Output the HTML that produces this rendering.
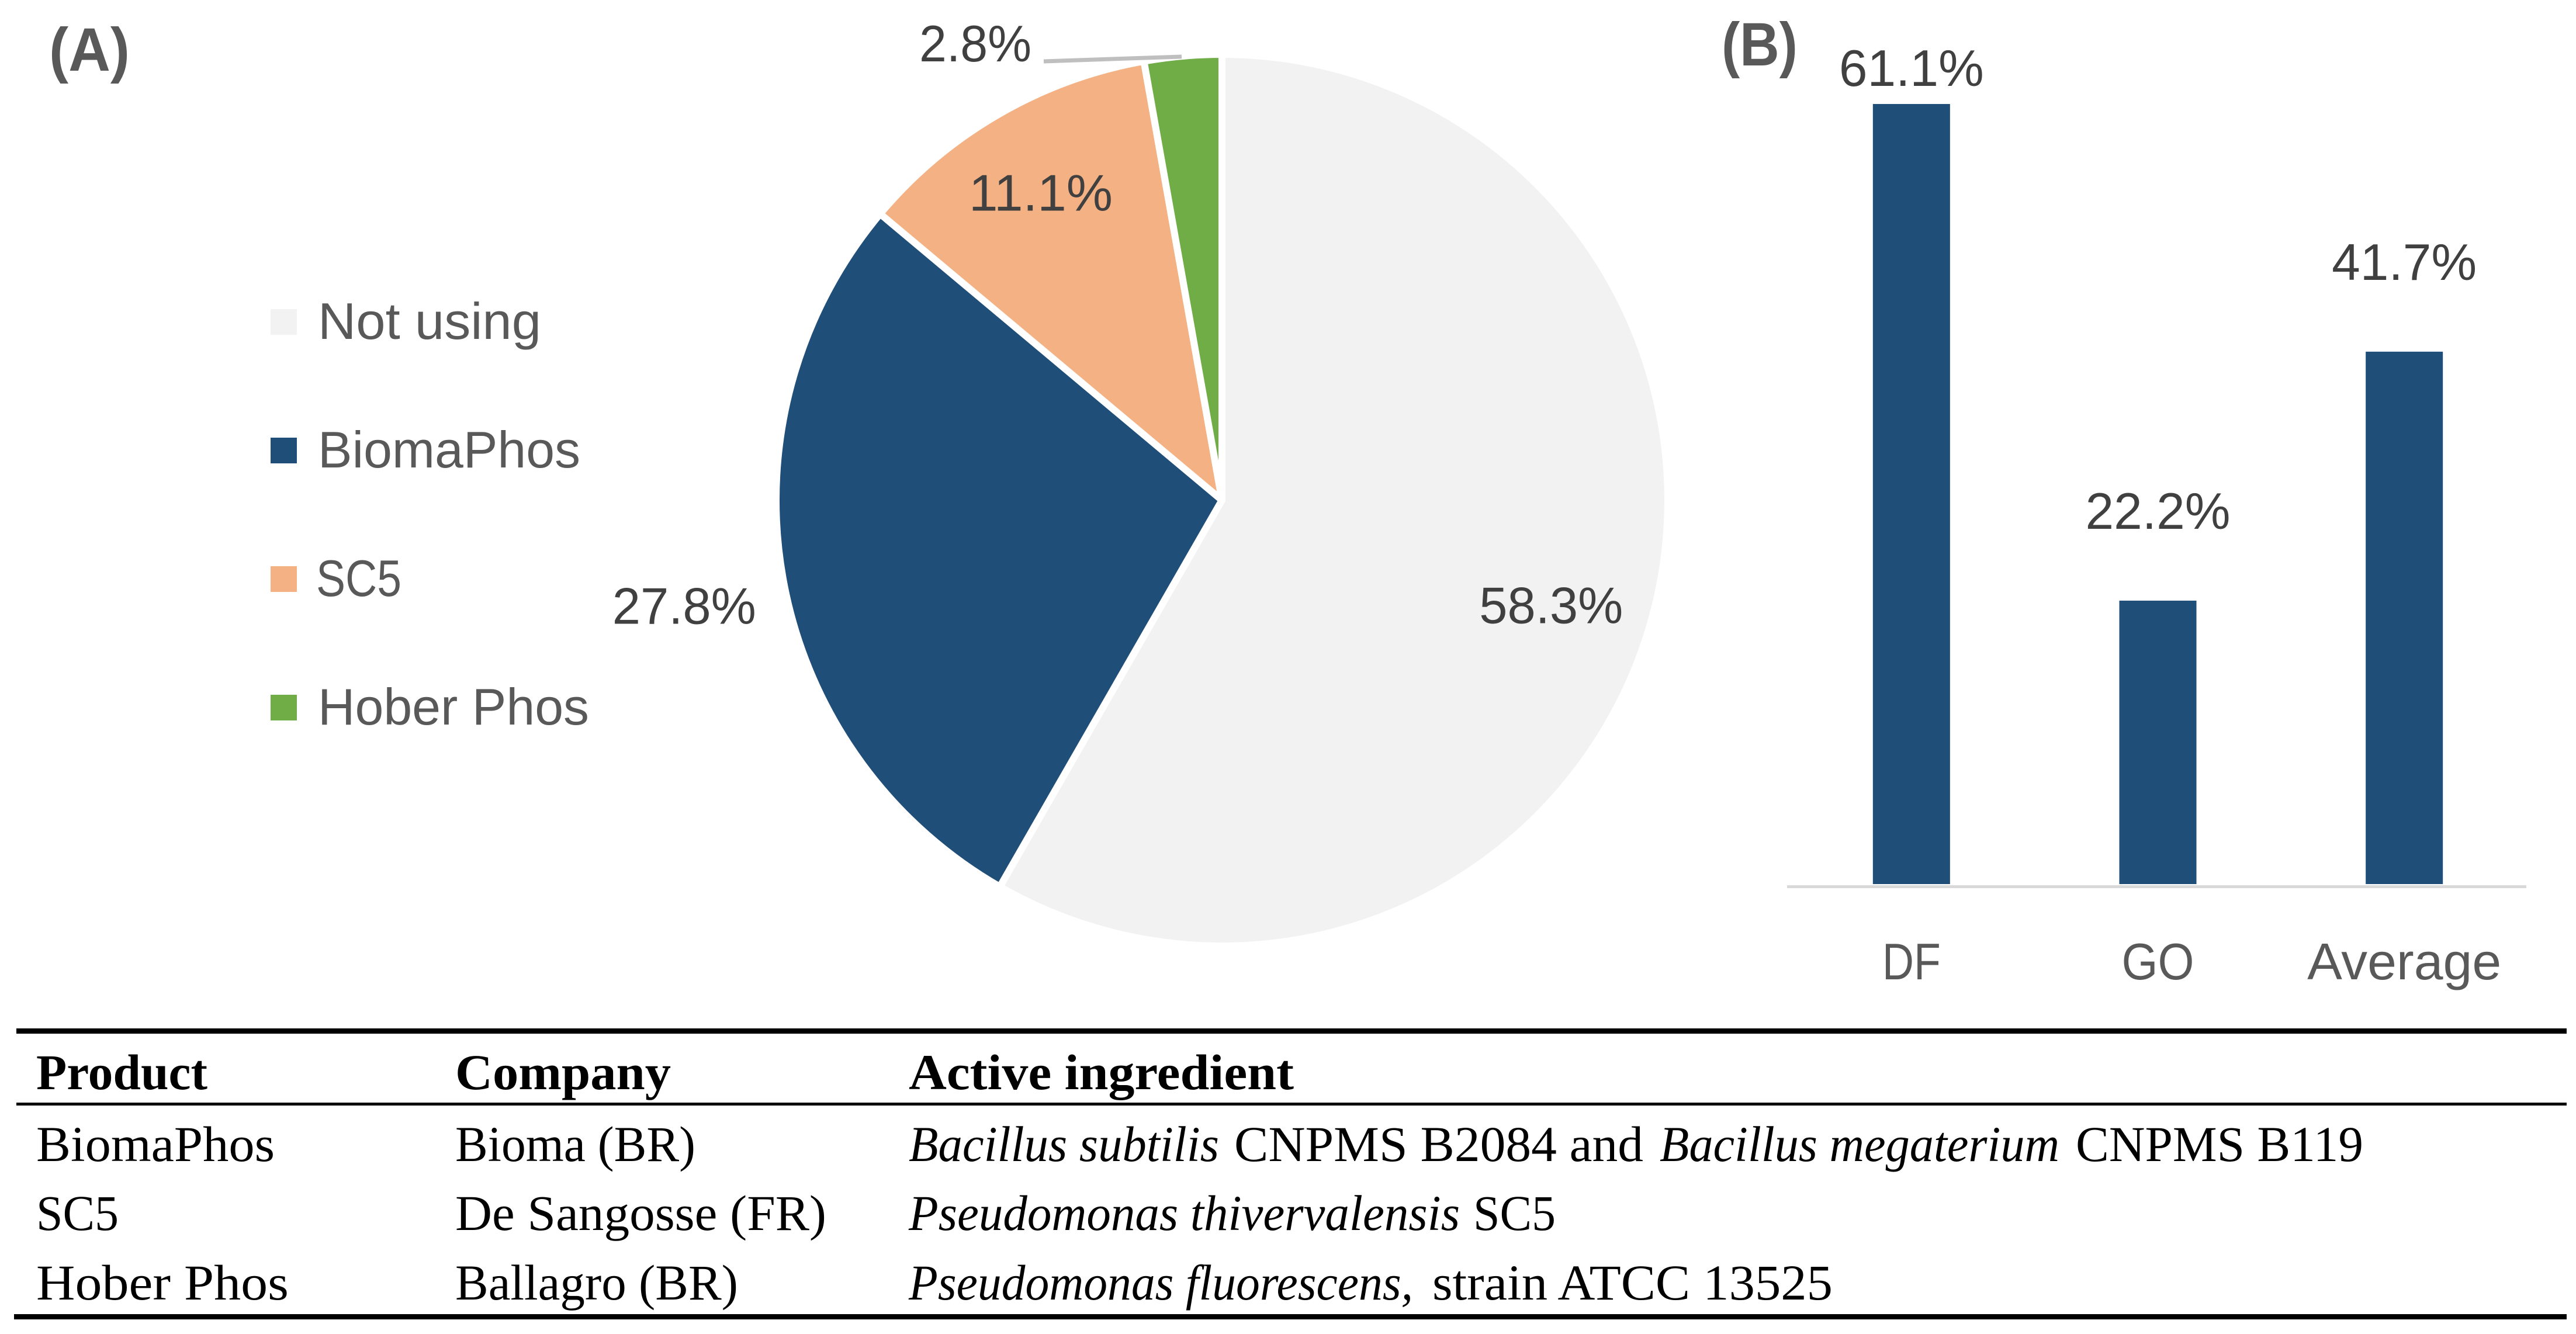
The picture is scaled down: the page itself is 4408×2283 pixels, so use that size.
<!DOCTYPE html>
<html lang="en">
<head>
<meta charset="utf-8">
<title>Phosphate solubilizing product use</title>
<style>
  html, body { margin: 0; padding: 0; background: #ffffff; }
  body { width: 4408px; height: 2283px; overflow: hidden; }
  svg { display: block; }
  .sans { font-family: "Liberation Sans", sans-serif; }
  .cell { font-family: "Liberation Serif", serif; font-size: 86px; fill: #000000; }
  .head { font-weight: 700; }
  .ital { font-style: italic; }
</style>
</head>
<body>
<svg id="figure" xmlns="http://www.w3.org/2000/svg" width="4408" height="2283" viewBox="0 0 4408 2283">
  <rect x="0" y="0" width="4408" height="2283" fill="#ffffff"/>
  <text class="sans" x="84" y="121" font-size="105" font-weight="700" fill="#595959" textLength="138" lengthAdjust="spacingAndGlyphs">(A)</text>
  <text class="sans" x="2946" y="112" font-size="105" font-weight="700" fill="#595959" textLength="130" lengthAdjust="spacingAndGlyphs">(B)</text>

  <g id="pie-chart"></g>
  <g id="pie-legend"></g>
  <g id="bar-chart"></g>

  <g>
    <rect x="28" y="1760" width="4364" height="9" fill="#000"/>
    <rect x="28" y="1887" width="4364" height="5" fill="#000"/>
    <rect x="24" y="2249" width="4368" height="9" fill="#000"/>

    <text class="cell head" x="62" y="1864" textLength="293" lengthAdjust="spacingAndGlyphs">Product</text>
    <text class="cell head" x="779" y="1864" textLength="369" lengthAdjust="spacingAndGlyphs">Company</text>
    <text class="cell head" x="1555" y="1864" textLength="659" lengthAdjust="spacingAndGlyphs">Active ingredient</text>

    <text class="cell" x="62" y="1987" textLength="408" lengthAdjust="spacingAndGlyphs">BiomaPhos</text>
    <text class="cell" x="779" y="1987" textLength="411" lengthAdjust="spacingAndGlyphs">Bioma (BR)</text>
    <text class="cell ital" x="1555" y="1987" textLength="531" lengthAdjust="spacingAndGlyphs">Bacillus subtilis</text>
    <text class="cell" x="2112" y="1987" textLength="700" lengthAdjust="spacingAndGlyphs">CNPMS B2084 and</text>
    <text class="cell ital" x="2840" y="1987" textLength="684" lengthAdjust="spacingAndGlyphs">Bacillus megaterium</text>
    <text class="cell" x="3552" y="1987" textLength="492" lengthAdjust="spacingAndGlyphs">CNPMS B119</text>

    <text class="cell" x="62" y="2105" textLength="141" lengthAdjust="spacingAndGlyphs">SC5</text>
    <text class="cell" x="779" y="2105" textLength="635" lengthAdjust="spacingAndGlyphs">De Sangosse (FR)</text>
    <text class="cell ital" x="1555" y="2105" textLength="943" lengthAdjust="spacingAndGlyphs">Pseudomonas thivervalensis</text>
    <text class="cell" x="2521" y="2105" textLength="141" lengthAdjust="spacingAndGlyphs">SC5</text>

    <text class="cell" x="62" y="2224" textLength="432" lengthAdjust="spacingAndGlyphs">Hober Phos</text>
    <text class="cell" x="779" y="2224" textLength="484" lengthAdjust="spacingAndGlyphs">Ballagro (BR)</text>
    <text class="cell ital" x="1555" y="2224" textLength="863" lengthAdjust="spacingAndGlyphs">Pseudomonas fluorescens,</text>
    <text class="cell" x="2451" y="2224" textLength="685" lengthAdjust="spacingAndGlyphs">strain ATCC 13525</text>
  </g>
</svg>

<script>
// Chart data
const pieCategories = ['Not using', 'BiomaPhos', 'SC5', 'Hober Phos'];
const pieValues = [58.3, 27.8, 11.1, 2.8];
const barCategories = ['DF', 'GO', 'Average'];
const barValues = [61.1, 22.2, 41.7];

const SVG_NS = 'http://www.w3.org/2000/svg';
const pieColors = ['#f2f2f2', '#1f4e79', '#f4b183', '#70ad47'];
const pieGeom = { cx: 2091, cy: 856, r: 763 };
const barGeom = { left: 3058, right: 4323, base: 1513, pxPerUnit: 21.85, width: 132, labelFloor: 147, labelGap: 123 };

function makeEl(tag, attrs, parent, text) {
  const el = document.createElementNS(SVG_NS, tag);
  Object.keys(attrs).forEach(function (k) { el.setAttribute(k, attrs[k]); });
  if (text !== undefined) el.textContent = text;
  parent.appendChild(el);
  return el;
}
function slug(s) { return s.toLowerCase().replace(/[^a-z0-9]+/g, '-'); }
function pct(v) { return v.toFixed(1) + '%'; }

// Pie axis functions: value -> angle -> point
const pieTotal = pieValues.reduce(function (a, b) { return a + b; }, 0);
function angleOf(v) { return v / pieTotal * Math.PI * 2; }
function pointAt(angle, radius) {
  return [pieGeom.cx + radius * Math.sin(angle), pieGeom.cy - radius * Math.cos(angle)];
}

function drawPie() {
  const g = document.getElementById('pie-chart');
  let cum = 0;
  const mids = [];
  pieValues.forEach(function (v, i) {
    const a0 = angleOf(cum);
    const a1 = angleOf(cum + v);
    cum += v;
    mids.push((a0 + a1) / 2);
    const p0 = pointAt(a0, pieGeom.r);
    const p1 = pointAt(a1, pieGeom.r);
    const large = (a1 - a0) > Math.PI ? 1 : 0;
    const d = 'M' + pieGeom.cx + ' ' + pieGeom.cy + 'L' + p0[0] + ' ' + p0[1] +
      'A' + pieGeom.r + ' ' + pieGeom.r + ' 0 ' + large + ' 1 ' + p1[0] + ' ' + p1[1] + 'Z';
    const el = makeEl('path', { d: d, fill: pieColors[i], stroke: '#ffffff', 'stroke-width': 12, 'stroke-linejoin': 'round' }, g);
    
    
  });

  // Label placement: radial factor and nudge relative to the slice mid-angle
  const radial = [0.764, 1.225, 0.811, 1.0];
  const nudge = [[0, 60], [0, 48], [0, 40], [-355, 9]];
  pieValues.forEach(function (v, i) {
    const p = pointAt(mids[i], pieGeom.r * radial[i]);
    const t = makeEl('text', {
      x: p[0] + nudge[i][0], y: p[1] + nudge[i][1], 'text-anchor': 'middle',
      class: 'sans', 'font-size': 88, fill: '#404040',
      textLength: v >= 10 ? 246 : 192, lengthAdjust: 'spacingAndGlyphs'
    }, g, pct(v));
    
    
  });

  // Leader line for the smallest slice
  const last = pieValues.length - 1;
  const tip = pointAt(mids[last], pieGeom.r);
  const leader = makeEl('line', {
    x1: tip[0] - 238, y1: tip[1] + 9, x2: tip[0] - 2, y2: tip[1] + 1,
    stroke: '#bfbfbf', 'stroke-width': 7
  }, g);
  
  
}

function drawLegend() {
  const g = document.getElementById('pie-legend');
  const lengths = [382, 449, 146, 464];
  pieCategories.forEach(function (name, i) {
    const baseline = 580 + i * 220;
    const sw = makeEl('rect', { x: 463, y: baseline - 51, width: 45, height: 44, fill: pieColors[i] }, g);
    
    
    const t = makeEl('text', {
      x: 544 - (name === 'SC5' ? 3 : 0), y: baseline, class: 'sans', 'font-size': 88, fill: '#595959',
      textLength: lengths[i], lengthAdjust: 'spacingAndGlyphs'
    }, g, name);
    
    
  });
}

// Bar axis functions
function xBand(i) {
  const step = (barGeom.right - barGeom.left) / barCategories.length;
  return barGeom.left + 2 + step * (i + 0.5);
}
function yValue(v) { return barGeom.base - v * barGeom.pxPerUnit; }

function drawBars() {
  const g = document.getElementById('bar-chart');
  const axis = makeEl('rect', { x: barGeom.left, y: barGeom.base + 2, width: barGeom.right - barGeom.left, height: 5, fill: '#d9d9d9' }, g);
  
  
  const catLengths = [100, 124, 332];
  barValues.forEach(function (v, i) {
    const cx = xBand(i);
    const top = yValue(v);
    const bar = makeEl('rect', { x: cx - barGeom.width / 2, y: top, width: barGeom.width, height: barGeom.base - top, fill: '#1f4e79' }, g);
    
    
    const label = makeEl('text', {
      x: cx, y: Math.max(barGeom.labelFloor, top - barGeom.labelGap), 'text-anchor': 'middle',
      class: 'sans', 'font-size': 88, fill: '#404040', textLength: 248, lengthAdjust: 'spacingAndGlyphs'
    }, g, pct(v));
    
    
    const cat = makeEl('text', {
      x: cx, y: 1676, 'text-anchor': 'middle',
      class: 'sans', 'font-size': 88, fill: '#595959', textLength: catLengths[i], lengthAdjust: 'spacingAndGlyphs'
    }, g, barCategories[i]);
    
    
  });
}

drawPie();
drawLegend();
drawBars();
</script>
</body>
</html>
